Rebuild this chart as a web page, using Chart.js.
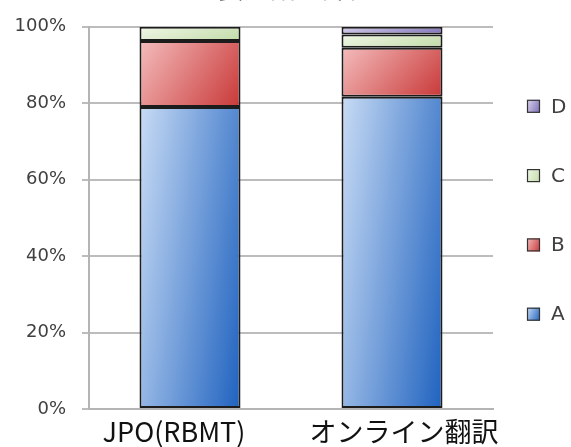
<!DOCTYPE html>
<html>
<head>
<meta charset="utf-8">
<script src="https://cdn.jsdelivr.net/npm/chart.js@4/dist/chart.umd.min.js"></script>
<style>
  html, body { margin: 0; padding: 0; background: #fff; }
  #wrap { width: 571px; height: 447px; }
</style>
</head>
<body>
<div id="wrap"><canvas id="myChart" width="571" height="447"></canvas></div>
<script>
let categories = ['JPO(RBMT)', 'オンライン翻訳'];
let title_text = '重要用語の評価';

// shares per grade, bottom to top
let grade_a = [79.0, 81.7];
let grade_b = [17.3, 12.8];
let grade_c = [3.7, 3.5];
let grade_d = [0.0, 2.0];

let y_ticks = [0, 20, 40, 60, 80, 100];

// light / dark ends of each fill
let fills = {
  A: ['#c9dcf5', '#1f62bf'],
  B: ['#f4bcbc', '#c93838'],
  C: ['#f0f7e6', '#c2dba8'],
  D: ['#dcd6ee', '#7b6cb6']
};

// category captions sit a little off the bar centres
let caption_shift = [-16, 12];

let stacks = [grade_a, grade_b, grade_c, grade_d];

function shadedFill(ctx, x0, y0, x1, y1, cols) {
  // mostly left-to-right, a bit top-to-bottom
  let w = Math.max(x1 - x0, 1), h = Math.max(y1 - y0, 1);
  let a = 0.7 / w, b = 0.3 / h;
  let n = a * a + b * b;
  let g = ctx.createLinearGradient(x0, y0, x0 + a / n, y0 + b / n);
  g.addColorStop(0, cols[0]);
  g.addColorStop(1, cols[1]);
  return g;
}

function barFill(key, stackIndex) {
  return function(context) {
    let chart = context.chart;
    let cols = fills[key];
    if (context.type !== 'data' || !chart.chartArea) return cols[1];
    let xs = chart.scales.x, ys = chart.scales.y;
    let i = context.dataIndex;
    let lower = 0;
    for (let s = 0; s < stackIndex; s++) lower += stacks[s][i];
    let upper = lower + stacks[stackIndex][i];
    let half = xs.width / categories.length * 0.5 / 2;
    let cx = xs.getPixelForValue(i);
    return shadedFill(chart.ctx, cx - half, ys.getPixelForValue(upper), cx + half, ys.getPixelForValue(lower), cols);
  };
}

function makeSet(label, values, idx) {
  return {
    label: label,
    data: values,
    backgroundColor: barFill(label, idx),
    borderColor: '#1c1c1c',
    borderWidth: 2,
    borderSkipped: false,
    barPercentage: 0.5,
    categoryPercentage: 1.0
  };
}

// title sits mostly above the canvas, legend is a plain column on the right,
// category captions are drawn here so each can be nudged
const extras = {
  id: 'extras',
  afterDraw(chart) {
    let ctx = chart.ctx;
    let area = chart.chartArea;
    ctx.save();
    ctx.fillStyle = '#333';
    ctx.font = '26px "Noto Sans CJK JP"';
    ctx.textAlign = 'center';
    ctx.textBaseline = 'alphabetic';
    ctx.fillText(title_text, 283, -2);

    ctx.fillStyle = '#111';
    ctx.font = '27px "Noto Sans CJK JP"';
    ctx.textBaseline = 'alphabetic';
    categories.forEach(function(c, i) {
      let x = chart.scales.x.getPixelForValue(i) + caption_shift[i];
      ctx.fillText(c, x, area.bottom + 33);
    });

    ctx.font = '20px "DejaVu Sans"';
    ctx.textAlign = 'left';
    ctx.textBaseline = 'middle';
    let sets = chart.data.datasets.slice().reverse();
    sets.forEach(function(ds, k) {
      let cy = area.top + 79.5 + k * 69.3;
      let bx = area.right + 34, by = cy - 6.5;
      ctx.fillStyle = shadedFill(ctx, bx, by, bx + 13, by + 13, fills[ds.label]);
      ctx.fillRect(bx, by, 13, 13);
      ctx.strokeStyle = '#333';
      ctx.lineWidth = 1.2;
      ctx.strokeRect(bx + 0.5, by + 0.5, 12, 12);
      ctx.fillStyle = '#404040';
      ctx.fillText(ds.label, bx + 24, cy + 1);
    });
    ctx.restore();
  }
};

let config = {
  type: 'bar',
  data: {
    labels: categories,
    datasets: [
      makeSet('A', grade_a, 0),
      makeSet('B', grade_b, 1),
      makeSet('C', grade_c, 2),
      makeSet('D', grade_d, 3)
    ]
  },
  options: {
    responsive: false,
    animation: false,
    layout: { padding: { top: 24, right: 78, bottom: 0, left: 0 } },
    plugins: {
      legend: { display: false },
      tooltip: { enabled: false }
    },
    scales: {
      x: {
        stacked: true,
        grid: { display: false },
        border: { display: true, color: '#b4b4b4', width: 2 },
        ticks: { display: false },
        afterFit(scale) { scale.height = 38; }
      },
      y: {
        stacked: true,
        min: 0,
        max: 100,
        afterBuildTicks(scale) {
          scale.ticks = y_ticks.map(function(v) { return { value: v }; });
        },
        grid: { color: '#bcbcbc', lineWidth: 2, tickLength: 7 },
        border: { display: true, color: '#b4b4b4', width: 2 },
        ticks: {
          color: '#404040',
          font: { family: '"DejaVu Sans"', size: 18 },
          padding: 16,
          callback: function(v) { return v + '%'; }
        },
        afterFit(scale) { scale.width = 89; }
      }
    }
  },
  plugins: [extras]
};

let myChart = new Chart(document.getElementById('myChart'), config);
</script>
</body>
</html>
